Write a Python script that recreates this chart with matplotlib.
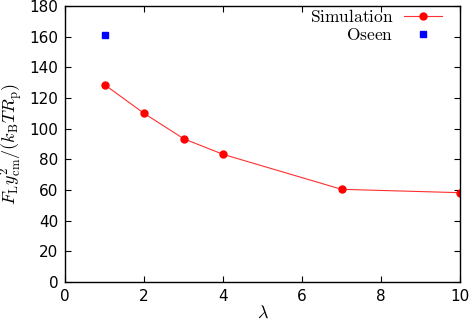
import matplotlib
matplotlib.use('Agg')
import matplotlib.pyplot as plt

lam_sim = [1, 2, 3, 4, 7, 10]
force_sim = [128.7, 110.0, 93.5, 83.3, 60.5, 58.3]
lam_oseen = [1]
force_oseen = [161.0]

plt.rcParams['mathtext.fontset'] = 'cm'

fig = plt.figure(figsize=(4.69, 3.22), dpi=100)
ax = fig.add_axes([0.139, 0.124, 0.842, 0.857])

ax.plot(lam_sim, force_sim, color='#ff3030', lw=0.8, marker='o', ms=5,
        mfc='#ff0000', mec='#ff0000', label=r'$\mathrm{Simulation}$')
ax.plot(lam_oseen, force_oseen, ls='none', marker='s', ms=4.5,
        color='#0000ff', label=r'$\mathrm{Oseen}$')

ax.set_xlim(0, 10)
ax.set_ylim(0, 180)
ax.set_xticks(range(0, 11, 2))
ax.set_yticks(range(0, 181, 20))
ax.tick_params(direction='in', top=True, right=True, labelsize=11, length=4, pad=5)
for s in ax.spines.values():
    s.set_linewidth(1.0)

ax.set_xlabel(r'$\lambda$', fontsize=13, labelpad=0)
ax.set_ylabel(r'$F_{\mathrm{L}}y_{\mathrm{cm}}^2/(k_{\mathrm{B}}TR_{\mathrm{p}})$',
              fontsize=13, labelpad=2)

leg = ax.legend(loc='upper right', bbox_to_anchor=(0.963, 1.005),
                frameon=False, markerfirst=False, prop={'size': 12.5},
                handlelength=2.2, borderaxespad=0, borderpad=0.2,
                labelspacing=0.0, handletextpad=0.6)
for t in leg.get_texts():
    t.set_ha('right')

fig.savefig('out.png', dpi=100)
